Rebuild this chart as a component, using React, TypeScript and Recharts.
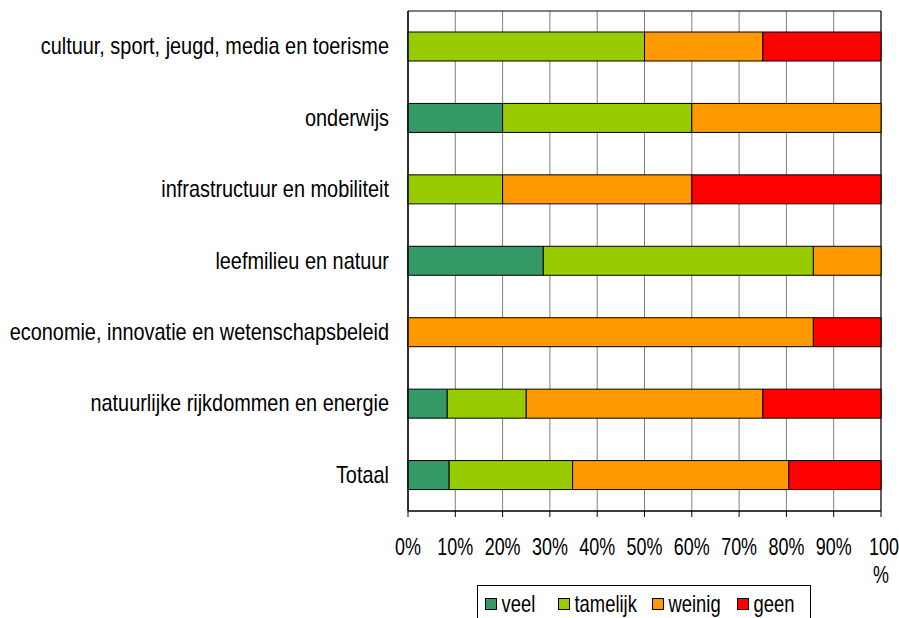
import React from "react";
import { BarChart, Bar, XAxis, YAxis, CartesianGrid, Legend, ReferenceArea } from "recharts";

const CATEGORIES = [
  "cultuur, sport, jeugd, media en toerisme",
  "onderwijs",
  "infrastructuur en mobiliteit",
  "leefmilieu en natuur",
  "economie, innovatie en wetenschapsbeleid",
  "natuurlijke rijkdommen en energie",
  "Totaal",
];

const VEEL = [0, 20, 0, 28.6, 0, 8.3, 8.7];
const TAMELIJK = [50, 40, 20, 57.1, 0, 16.7, 26.1];
const WEINIG = [25, 40, 40, 14.3, 85.7, 50, 45.7];
const GEEN = [25, 0, 40, 0, 14.3, 25, 19.5];

const X_TICKS = [0, 10, 20, 30, 40, 50, 60, 70, 80, 90, 100];

const SERIES = [
  { key: "veel", color: "#339966" },
  { key: "tamelijk", color: "#99CC00" },
  { key: "weinig", color: "#FF9900" },
  { key: "geen", color: "#FF0000" },
];

const data = CATEGORIES.map((name, i) => ({
  name,
  veel: VEEL[i],
  tamelijk: TAMELIJK[i],
  weinig: WEINIG[i],
  geen: GEEN[i],
}));

const FONT = "'Liberation Sans', Arial, sans-serif";
// legend item x offsets inside the legend box (swatch left edge)
const LEGEND_X = [8, 81, 175, 260];

function XTick(props: any) {
  const { x, y, payload } = props;
  if (payload.value === 100) {
    return (
      <g fontFamily={FONT} fontSize={23} fill="#000">
        <text transform={`translate(${x + 3},${y + 38}) scale(0.78,1)`} textAnchor="middle">100</text>
        <text transform={`translate(${x},${y + 66}) scale(0.78,1)`} textAnchor="middle">%</text>
      </g>
    );
  }
  return (
    <text
      transform={`translate(${x},${y + 38}) scale(0.78,1)`}
      textAnchor="middle"
      fontFamily={FONT}
      fontSize={23}
      fill="#000"
    >
      {payload.value + "%"}
    </text>
  );
}

function YTick(props: any) {
  const { x, y, payload } = props;
  return (
    <text
      transform={`translate(${x},${y + 7.5}) scale(0.865,1)`}
      textAnchor="end"
      fontFamily={FONT}
      fontSize={23}
      fill="#000"
    >
      {payload.value}
    </text>
  );
}

function LegendBox() {
  return (
    <svg width={334} height={36} style={{ display: "block" }}>
      <rect x={0.5} y={0.5} width={333} height={44} fill="#fff" stroke="#000" />
      {SERIES.map((s, i) => (
        <g key={s.key}>
          <rect x={LEGEND_X[i] + 0.5} y={13.5} width={11} height={11} fill={s.color} stroke="#000" />
          <text
            transform={`translate(${LEGEND_X[i] + 16.5},27) scale(0.8,1)`}
            fontFamily={FONT}
            fontSize={23}
            fill="#000"
          >
            {s.key}
          </text>
        </g>
      ))}
    </svg>
  );
}

export default function App() {
  return (
    <div style={{ width: 899, height: 618 }}>
      <style>{"body{margin:0}"}</style>
      <BarChart
        width={899}
        height={618}
        data={data}
        layout="vertical"
        margin={{ top: 11, right: 18, bottom: 0, left: 0 }}
        barSize={29}
      >
        <CartesianGrid vertical horizontal={false} stroke="#808080" />
        <ReferenceArea x1={0} x2={100} fill="none" stroke="#000" strokeWidth={1} />
        <XAxis
          type="number"
          domain={[0, 100]}
          ticks={X_TICKS}
          interval={0}
          height={71}
          tickSize={6}
          tickMargin={0}
          stroke="#000"
          tick={<XTick />}
        />
        <YAxis
          type="category"
          dataKey="name"
          width={408}
          tickLine={false}
          tickSize={6}
          tickMargin={13}
          stroke="#000"
          interval={0}
          tick={<YTick />}
        />
        <Legend
          content={<LegendBox />}
          wrapperStyle={{ left: 477, top: 585, bottom: "auto", width: 334, height: 36 }}
        />
        {SERIES.map((s) => (
          <Bar
            key={s.key}
            dataKey={s.key}
            stackId="a"
            fill={s.color}
            stroke="#000"
            strokeWidth={1}
            isAnimationActive={false}
          />
        ))}
      </BarChart>
    </div>
  );
}
